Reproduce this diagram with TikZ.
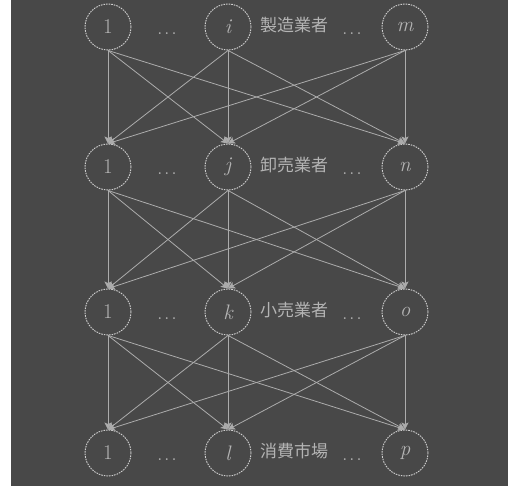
\documentclass[tikz,border=0pt]{standalone}
\usepackage{fontspec}
\newfontfamily\cjk{Noto Sans CJK JP}
\usetikzlibrary{arrows.meta}
\definecolor{bg}{HTML}{484848}
\definecolor{ln}{HTML}{ACACAC}
\definecolor{tx}{HTML}{B4B4B4}
\definecolor{cr}{HTML}{D0D0D0}
\newcommand{\mydots}{.\kern1.6pt.\kern1.6pt.}
\tikzset{
  agent/.style={circle, draw=cr, line width=0.9pt, dash pattern=on 1.6pt off 1pt,
    minimum size=46pt, inner sep=0pt, text=tx, font=\fontsize{21}{24}\selectfont},
  flow/.style={draw=ln, line width=0.8pt, -{Stealth[length=7pt,width=7pt,inset=1.5pt]}},
  layerlabel/.style={text=tx, font=\cjk\fontsize{17}{19}\selectfont, inner sep=0pt},
  dotsl/.style={text=tx, font=\fontsize{22}{24}\selectfont, inner sep=0pt}
}
\begin{document}
\begin{tikzpicture}[x=1pt,y=-1pt]
\useasboundingbox (0,0) rectangle (508,486);
\fill[white] (0,0) rectangle (11,486);
\fill[bg] (11,0) rectangle (508,486);
% layers
\foreach \nm/\y/\b/\c/\lab in {t/27/i/m/製造業者, w/167/j/n/卸売業者, r/312/k/o/小売業者, c/453/l/p/消費市場}{
  \node[agent] (\nm1) at (108,\y) {1};
  \node[agent] (\nm2) at (228,\y) {\itshape\b};
  \node[agent] (\nm3) at (405,\y) {\itshape\c};
  \node[layerlabel] (\nm lab) at (294,\y-2) {\lab};
  \node[dotsl, anchor=base] (\nm d1) at (167,\y+7.5) {\mydots};
  \node[dotsl, anchor=base] (\nm d2) at (352,\y+7.5) {\mydots};
}
\foreach \u/\l in {t/w, w/r, r/c}{
  \foreach \i in {1,2,3}{
    \foreach \j in {1,2,3}{
      \draw[flow] (\u\i.south) -- (\l\j.north);
    }
  }
}
\end{tikzpicture}
\end{document}
